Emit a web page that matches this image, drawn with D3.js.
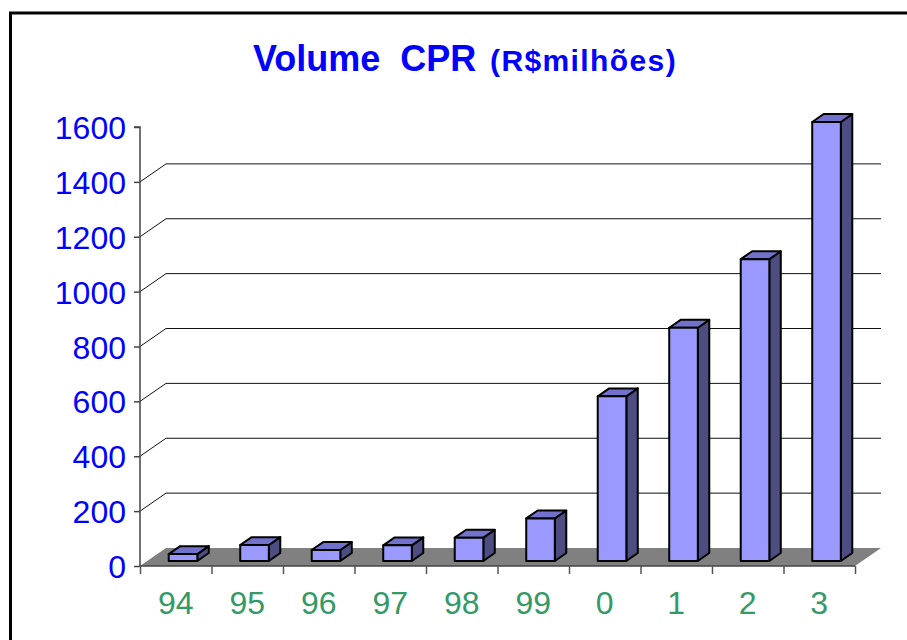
<!DOCTYPE html>
<html>
<head>
<meta charset="utf-8">
<script src="https://cdn.jsdelivr.net/npm/d3@7"></script>
<style>
    body { margin: 0; background: #fff; }
    #chart { width: 907px; height: 640px; }
    text { font-family: "Liberation Sans", Arial, sans-serif; }
</style>
</head>
<body>
<div id="chart"></div>
<script>
const categories = ["94", "95", "96", "97", "98", "99", "0", "1", "2", "3"]
const values = [25, 58, 40, 57, 85, 155, 600, 850, 1100, 1600]
const yTicks = [0, 200, 400, 600, 800, 1000, 1200, 1400, 1600]

const width = 907, height = 640
const plot = {left: 140, right: 855, top: 127, bottom: 566}
const depth = {dx: 26, dy: -18}       // depth of the floor / back wall
const barFront = 0.28, barBack = 0.72  // where the bars sit in depth

var svg = d3.select("#chart").append("svg")
    .attr("width", width)
    .attr("height", height)
    .attr("display", "block")

// frame
svg.append("rect")
    .attr("x", 10.5).attr("y", 13)
    .attr("width", 940).attr("height", 700)
    .attr("fill", "none")
    .attr("stroke", "#000")
    .attr("stroke-width", 3)

// title
var title = svg.append("text")
    .attr("x", 253).attr("y", 71)
    .attr("fill", "#0000ff")
    .attr("font-weight", "bold")
    .style("white-space", "pre")
title.append("tspan").attr("font-size", 36).text("Volume  CPR")
title.append("tspan").attr("x", 490).attr("font-size", 30)
    .attr("letter-spacing", 1.4).text("(R$milhões)")

var yScale = d3.scaleLinear()
    .domain([0, 1600])
    .range([plot.bottom, plot.top])

var xScale = d3.scaleBand()
    .domain(categories)
    .range([plot.left, plot.right])
    .paddingInner(0.6)
    .paddingOuter(0.3)

var xEdge = d3.scaleLinear()
    .domain([0, categories.length])
    .range([plot.left, plot.right])

// back wall gridlines (with the diagonal from the axis)
var grid = svg.append("g")
yTicks.filter(d => d > 0 && d < 1600).forEach(function(d) {
    var y = yScale(d)
    grid.append("path")
        .attr("d", "M" + plot.left + "," + y +
            "L" + (plot.left + depth.dx) + "," + (y + depth.dy) +
            "L" + (plot.right + depth.dx) + "," + (y + depth.dy))
        .attr("fill", "none")
        .attr("stroke", "#111")
        .attr("stroke-width", 1)
})

// floor
svg.append("path")
    .attr("d", "M" + plot.left + "," + plot.bottom +
        "L" + plot.right + "," + plot.bottom +
        "L" + (plot.right + depth.dx) + "," + (plot.bottom + depth.dy) +
        "L" + (plot.left + depth.dx) + "," + (plot.bottom + depth.dy) + "Z")
    .attr("fill", "#808080")

// y axis
var yAxis = d3.axisLeft(yScale)
    .tickValues(yTicks)
    .tickFormat(d3.format("d"))
    .tickSize(6)
    .tickPadding(8)
var yG = svg.append("g")
    .attr("transform", "translate(" + plot.left + ",0)")
    .call(yAxis)
yG.select(".domain").attr("stroke", "#444").attr("stroke-width", 1.5)
    .attr("d", "M-6," + plot.top + "H0V" + plot.bottom)
yG.selectAll(".tick line").attr("stroke", "#444").attr("stroke-width", 1.5)
yG.selectAll(".tick text")
    .attr("font-size", 32)
    .attr("font-family", "Liberation Sans, Arial, sans-serif")
    .attr("fill", "#0000ff")
    .attr("dy", "0.36em")

// x axis: tick marks at category edges
var xAxis = d3.axisBottom(xEdge)
    .tickValues(d3.range(categories.length + 1))
    .tickSize(8)
    .tickFormat("")
var xG = svg.append("g")
    .attr("transform", "translate(0," + plot.bottom + ")")
    .call(xAxis)
xG.select(".domain").attr("stroke", "#444").attr("stroke-width", 1.5)
    .attr("d", "M" + plot.left + ",0H" + plot.right)
xG.selectAll(".tick line").attr("stroke", "#555").attr("stroke-width", 1.5)

svg.append("g").selectAll("text")
    .data(categories)
    .enter()
    .append("text")
    .attr("x", d => xScale(d) + xScale.bandwidth() / 2)
    .attr("y", 614)
    .attr("text-anchor", "middle")
    .attr("font-size", 32)
    .attr("fill", "#339966")
    .text(d => d)

// 3D bars
var fx = depth.dx * barFront, fy = depth.dy * barFront
var bx = depth.dx * (barBack - barFront), by = depth.dy * (barBack - barFront)
var bars = svg.append("g")
categories.forEach(function(c, i) {
    var x0 = xScale(c) + fx
    var x1 = x0 + xScale.bandwidth()
    var y0 = yScale(0) + fy
    var y1 = yScale(values[i]) + fy
    var g = bars.append("g")
        .attr("stroke", "#000")
        .attr("stroke-width", 2)
        .attr("stroke-linejoin", "round")
    g.append("path")
        .attr("d", "M" + x1 + "," + y0 + "L" + x1 + "," + y1 +
            "L" + (x1 + bx) + "," + (y1 + by) + "L" + (x1 + bx) + "," + (y0 + by) + "Z")
        .attr("fill", "#4d4d82")
    g.append("path")
        .attr("d", "M" + x0 + "," + y1 + "L" + x1 + "," + y1 +
            "L" + (x1 + bx) + "," + (y1 + by) + "L" + (x0 + bx) + "," + (y1 + by) + "Z")
        .attr("fill", "#7272cc")
    g.append("rect")
        .attr("x", x0).attr("y", y1)
        .attr("width", x1 - x0).attr("height", y0 - y1)
        .attr("fill", "#9999ff")
})
</script>
</body>
</html>
